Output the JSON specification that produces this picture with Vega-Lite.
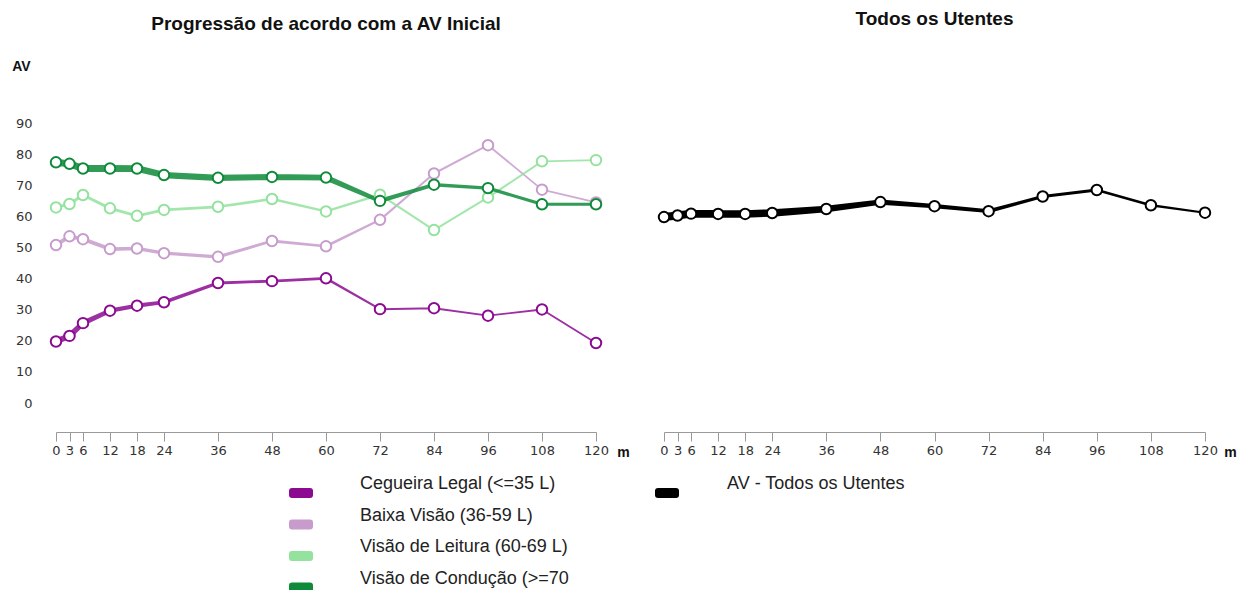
{
  "$schema": "https://vega.github.io/schema/vega-lite/v6.json",
  "padding": {"left": 11, "top": 10, "right": 0, "bottom": 0},
  "background": "white",
  "bounds": "flush",
  "spacing": 68,
  "config": {
    "view": {"stroke": null},
    "font": "Liberation Sans",
    "title": {"font": "Liberation Sans", "fontSize": 19, "fontWeight": "bold", "color": "#111", "anchor": "middle", "frame": "group"},
    "axis": {"grid": false, "labelFont": "DejaVu Sans", "labelFontSize": 13, "labelColor": "#333", "domainColor": "#999", "tickColor": "#999"},
    "legend": {"padding": 0, "labelFont": "Liberation Sans", "labelFontSize": 18, "labelColor": "#222", "labelLimit": 500}
  },
  "datasets": {
    "grupos": [
      {"grupo": "Baixa Visão (36-59 L)", "m": 0, "av": 50.8, "n": 200},
      {"grupo": "Baixa Visão (36-59 L)", "m": 3, "av": 53.6, "n": 195},
      {"grupo": "Baixa Visão (36-59 L)", "m": 6, "av": 52.7, "n": 190},
      {"grupo": "Baixa Visão (36-59 L)", "m": 12, "av": 49.5, "n": 185},
      {"grupo": "Baixa Visão (36-59 L)", "m": 18, "av": 49.7, "n": 180},
      {"grupo": "Baixa Visão (36-59 L)", "m": 24, "av": 48.2, "n": 170},
      {"grupo": "Baixa Visão (36-59 L)", "m": 36, "av": 47.0, "n": 160},
      {"grupo": "Baixa Visão (36-59 L)", "m": 48, "av": 52.1, "n": 140},
      {"grupo": "Baixa Visão (36-59 L)", "m": 60, "av": 50.4, "n": 130},
      {"grupo": "Baixa Visão (36-59 L)", "m": 72, "av": 58.9, "n": 110},
      {"grupo": "Baixa Visão (36-59 L)", "m": 84, "av": 73.8, "n": 100},
      {"grupo": "Baixa Visão (36-59 L)", "m": 96, "av": 82.9, "n": 95},
      {"grupo": "Baixa Visão (36-59 L)", "m": 108, "av": 68.6, "n": 90},
      {"grupo": "Baixa Visão (36-59 L)", "m": 120, "av": 64.5, "n": 90},
      {"grupo": "Visão de Leitura (60-69 L)", "m": 0, "av": 62.9, "n": 150},
      {"grupo": "Visão de Leitura (60-69 L)", "m": 3, "av": 64.0, "n": 150},
      {"grupo": "Visão de Leitura (60-69 L)", "m": 6, "av": 66.9, "n": 145},
      {"grupo": "Visão de Leitura (60-69 L)", "m": 12, "av": 62.6, "n": 145},
      {"grupo": "Visão de Leitura (60-69 L)", "m": 18, "av": 60.2, "n": 140},
      {"grupo": "Visão de Leitura (60-69 L)", "m": 24, "av": 62.1, "n": 140},
      {"grupo": "Visão de Leitura (60-69 L)", "m": 36, "av": 63.1, "n": 135},
      {"grupo": "Visão de Leitura (60-69 L)", "m": 48, "av": 65.6, "n": 130},
      {"grupo": "Visão de Leitura (60-69 L)", "m": 60, "av": 61.6, "n": 120},
      {"grupo": "Visão de Leitura (60-69 L)", "m": 72, "av": 67.0, "n": 110},
      {"grupo": "Visão de Leitura (60-69 L)", "m": 84, "av": 55.6, "n": 100},
      {"grupo": "Visão de Leitura (60-69 L)", "m": 96, "av": 66.1, "n": 100},
      {"grupo": "Visão de Leitura (60-69 L)", "m": 108, "av": 77.7, "n": 95},
      {"grupo": "Visão de Leitura (60-69 L)", "m": 120, "av": 78.1, "n": 90},
      {"grupo": "Cegueira Legal (<=35 L)", "m": 0, "av": 19.8, "n": 300},
      {"grupo": "Cegueira Legal (<=35 L)", "m": 3, "av": 21.6, "n": 290},
      {"grupo": "Cegueira Legal (<=35 L)", "m": 6, "av": 25.7, "n": 250},
      {"grupo": "Cegueira Legal (<=35 L)", "m": 12, "av": 29.7, "n": 220},
      {"grupo": "Cegueira Legal (<=35 L)", "m": 18, "av": 31.3, "n": 210},
      {"grupo": "Cegueira Legal (<=35 L)", "m": 24, "av": 32.4, "n": 180},
      {"grupo": "Cegueira Legal (<=35 L)", "m": 36, "av": 38.6, "n": 150},
      {"grupo": "Cegueira Legal (<=35 L)", "m": 48, "av": 39.2, "n": 140},
      {"grupo": "Cegueira Legal (<=35 L)", "m": 60, "av": 40.1, "n": 130},
      {"grupo": "Cegueira Legal (<=35 L)", "m": 72, "av": 30.2, "n": 100},
      {"grupo": "Cegueira Legal (<=35 L)", "m": 84, "av": 30.5, "n": 100},
      {"grupo": "Cegueira Legal (<=35 L)", "m": 96, "av": 28.1, "n": 95},
      {"grupo": "Cegueira Legal (<=35 L)", "m": 108, "av": 30.1, "n": 95},
      {"grupo": "Cegueira Legal (<=35 L)", "m": 120, "av": 19.3, "n": 90},
      {"grupo": "Visão de Condução (>=70 L)", "m": 0, "av": 77.4, "n": 350},
      {"grupo": "Visão de Condução (>=70 L)", "m": 3, "av": 76.9, "n": 350},
      {"grupo": "Visão de Condução (>=70 L)", "m": 6, "av": 75.4, "n": 345},
      {"grupo": "Visão de Condução (>=70 L)", "m": 12, "av": 75.4, "n": 340},
      {"grupo": "Visão de Condução (>=70 L)", "m": 18, "av": 75.4, "n": 335},
      {"grupo": "Visão de Condução (>=70 L)", "m": 24, "av": 73.3, "n": 315},
      {"grupo": "Visão de Condução (>=70 L)", "m": 36, "av": 72.4, "n": 310},
      {"grupo": "Visão de Condução (>=70 L)", "m": 48, "av": 72.7, "n": 300},
      {"grupo": "Visão de Condução (>=70 L)", "m": 60, "av": 72.5, "n": 290},
      {"grupo": "Visão de Condução (>=70 L)", "m": 72, "av": 65.0, "n": 210},
      {"grupo": "Visão de Condução (>=70 L)", "m": 84, "av": 70.2, "n": 180},
      {"grupo": "Visão de Condução (>=70 L)", "m": 96, "av": 69.1, "n": 165},
      {"grupo": "Visão de Condução (>=70 L)", "m": 108, "av": 63.9, "n": 155},
      {"grupo": "Visão de Condução (>=70 L)", "m": 120, "av": 63.9, "n": 150}
    ],
    "todos": [
      {"grupo": "AV - Todos os Utentes", "m": 0, "av": 59.8, "n": 400},
      {"grupo": "AV - Todos os Utentes", "m": 3, "av": 60.3, "n": 400},
      {"grupo": "AV - Todos os Utentes", "m": 6, "av": 60.9, "n": 390},
      {"grupo": "AV - Todos os Utentes", "m": 12, "av": 60.8, "n": 390},
      {"grupo": "AV - Todos os Utentes", "m": 18, "av": 60.8, "n": 380},
      {"grupo": "AV - Todos os Utentes", "m": 24, "av": 61.1, "n": 370},
      {"grupo": "AV - Todos os Utentes", "m": 36, "av": 62.4, "n": 330},
      {"grupo": "AV - Todos os Utentes", "m": 48, "av": 64.6, "n": 270},
      {"grupo": "AV - Todos os Utentes", "m": 60, "av": 63.3, "n": 220},
      {"grupo": "AV - Todos os Utentes", "m": 72, "av": 61.7, "n": 190},
      {"grupo": "AV - Todos os Utentes", "m": 84, "av": 66.4, "n": 160},
      {"grupo": "AV - Todos os Utentes", "m": 96, "av": 68.5, "n": 140},
      {"grupo": "AV - Todos os Utentes", "m": 108, "av": 63.6, "n": 120},
      {"grupo": "AV - Todos os Utentes", "m": 120, "av": 61.2, "n": 100}
    ]
  },
  "hconcat": [
    {
      "width": 540,
      "height": 340,
      "title": {"text": "Progressão de acordo com a AV Inicial", "offset": 25},
      "data": {"name": "grupos"},
      "encoding": {
        "x": {"field": "m", "type": "quantitative", "scale": {"domain": [0, 120], "nice": false},
          "axis": {"values": [0, 3, 6, 12, 18, 24, 36, 48, 60, 72, 84, 96, 108, 120], "labelOverlap": false, "labelFlush": false, "tickSize": 9, "labelPadding": 3,
            "title": "m", "titleX": 567, "titleY": 20, "titleAlign": "center", "titleBaseline": "middle", "titleFontSize": 14, "titleFontWeight": "bold", "titleColor": "#111"}},
        "y": {"field": "av", "type": "quantitative", "scale": {"domain": [-9.3, 100], "nice": false, "zero": false},
          "axis": {"values": [0, 10, 20, 30, 40, 50, 60, 70, 80, 90], "domain": false, "ticks": false, "labelPadding": 24,
            "title": "AV", "titleAngle": 0, "titleX": -35, "titleY": -26, "titleAlign": "center", "titleBaseline": "middle", "titleFontSize": 14, "titleFontWeight": "bold", "titleColor": "#111"}},
        "color": {"field": "grupo", "type": "nominal",
          "scale": {"domain": ["Cegueira Legal (<=35 L)", "Baixa Visão (36-59 L)", "Visão de Leitura (60-69 L)", "Visão de Condução (>=70 L)"], "range": ["#8b0a91", "#c79ccd", "#93e29e", "#0e8b3a"]},
          "legend": {"title": null, "orient": "none", "legendX": 233, "legendY": 389, "symbolType": "M-0.75,-0.42L0.75,-0.42Q1,-0.42 1,-0.17L1,0.17Q1,0.42 0.75,0.42L-0.75,0.42Q-1,0.42 -1,0.17L-1,-0.17Q-1,-0.42 -0.75,-0.42Z", "symbolSize": 576, "symbolStrokeWidth": 0, "symbolOpacity": 1, "labelOffset": 47, "rowPadding": 7.5, "labelBaseline": "bottom",
            "labelExpr": "datum.label == 'Visão de Condução (>=70 L)' ? 'Visão de Condução (>=70' : datum.label",
            "encode": {"symbols": {"update": {"fill": {"signal": "datum.value == 'Cegueira Legal (<=35 L)' ? '#8b0a91' : datum.value == 'Baixa Visão (36-59 L)' ? '#c79ccd' : datum.value == 'Visão de Leitura (60-69 L)' ? '#93e29e' : '#0e8b3a'"}, "fillOpacity": {"value": 1}, "opacity": {"value": 1}, "strokeWidth": {"value": 0}}}}}}
      },
      "layer": [
        {"mark": {"type": "trail", "opacity": 0.85},
          "encoding": {"size": {"field": "n", "type": "quantitative", "scale": {"domain": [0, 400], "range": [0, 8]}, "legend": null}}},
        {"mark": {"type": "point", "filled": false, "fill": "white", "fillOpacity": 1, "opacity": 1, "size": 110, "strokeWidth": 2}}
      ]
    },
    {
      "width": 541,
      "height": 340,
      "title": {"text": "Todos os Utentes", "offset": 63},
      "data": {"name": "todos"},
      "encoding": {
        "x": {"field": "m", "type": "quantitative", "scale": {"domain": [0, 120], "nice": false},
          "axis": {"values": [0, 3, 6, 12, 18, 24, 36, 48, 60, 72, 84, 96, 108, 120], "labelOverlap": false, "labelFlush": false, "tickSize": 9, "labelPadding": 3,
            "title": "m", "titleX": 566, "titleY": 20, "titleAlign": "center", "titleBaseline": "middle", "titleFontSize": 14, "titleFontWeight": "bold", "titleColor": "#111"}},
        "y": {"field": "av", "type": "quantitative", "scale": {"domain": [-9.3, 100], "nice": false, "zero": false}, "axis": null},
        "color": {"field": "grupo", "type": "nominal",
          "scale": {"domain": ["AV - Todos os Utentes"], "range": ["#000000"]},
          "legend": {"title": null, "orient": "none", "legendX": -9, "legendY": 389, "symbolType": "M-0.75,-0.42L0.75,-0.42Q1,-0.42 1,-0.17L1,0.17Q1,0.42 0.75,0.42L-0.75,0.42Q-1,0.42 -1,0.17L-1,-0.17Q-1,-0.42 -0.75,-0.42Z", "symbolSize": 576, "symbolStrokeWidth": 0, "symbolOpacity": 1, "labelOffset": 48, "labelBaseline": "bottom",
            "encode": {"symbols": {"update": {"fill": {"value": "#000000"}, "fillOpacity": {"value": 1}, "opacity": {"value": 1}, "strokeWidth": {"value": 0}}}}}}
      },
      "layer": [
        {"mark": {"type": "trail", "opacity": 1},
          "encoding": {"size": {"field": "n", "type": "quantitative", "scale": {"domain": [0, 400], "range": [0, 8]}, "legend": null}}},
        {"mark": {"type": "point", "filled": false, "fill": "white", "fillOpacity": 1, "opacity": 1, "size": 110, "strokeWidth": 2}}
      ]
    }
  ],
  "resolve": {"scale": {"color": "independent", "size": "independent"}, "legend": {"color": "independent"}}
}
